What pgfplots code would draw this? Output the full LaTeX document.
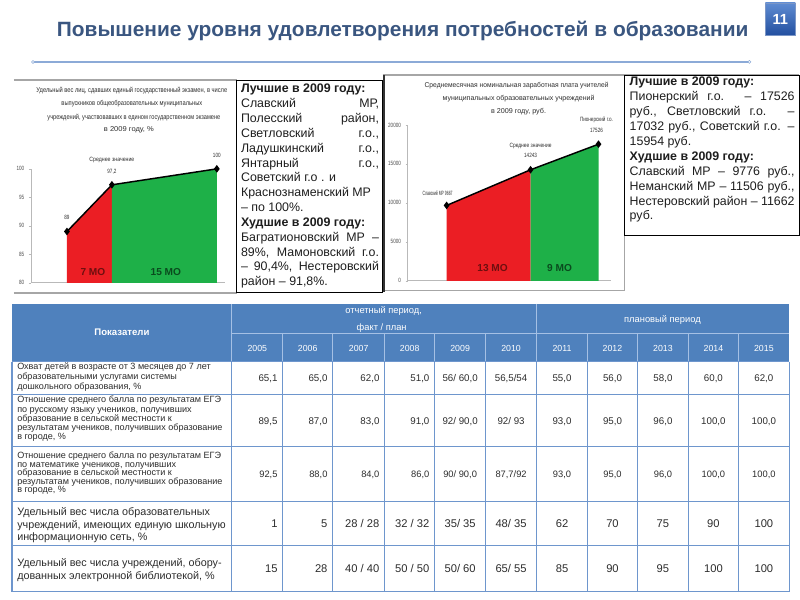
\documentclass[border=0pt]{standalone}
\usepackage{fontspec}
\setmainfont{Liberation Sans}
\usepackage{graphicx}
\usepackage{pgfplots}
\pgfplotsset{compat=1.18}

\definecolor{titleblue}{RGB}{58,86,128}
\definecolor{badgeA}{RGB}{95,140,210}
\definecolor{badgeB}{RGB}{35,80,160}
\definecolor{rule}{RGB}{140,170,215}
\definecolor{hdr}{RGB}{79,129,189}
\definecolor{hdrline}{RGB}{165,192,228}
\definecolor{gridc}{RGB}{110,150,205}
\definecolor{areared}{RGB}{235,30,36}
\definecolor{areagreen}{RGB}{30,176,72}
\definecolor{darkred}{RGB}{110,15,15}
\definecolor{darkgreen}{RGB}{10,75,30}
\definecolor{txt}{RGB}{45,45,45}
\definecolor{boxtxt}{RGB}{30,30,30}

\newcommand\fs[2]{\fontsize{#1}{#2}\selectfont}
\newlength\fitlen
% scale #2 horizontally to width #1 (pt)
\newcommand\fitw[2]{\settowidth\fitlen{#2}\pgfmathsetmacro\fitsx{(#1)/\fitlen}\scalebox{\fitsx}[1]{#2}}
% justified line of width #1 (pt)
\newcommand\jb[2]{\settowidth\fitlen{#2}\ifdim\fitlen>#1pt\relax\pgfmathsetmacro\fitsx{#1/\fitlen}\scalebox{\fitsx}[1]{#2}\else\makebox[#1pt][s]{#2}\fi}
\newcommand\sq[1]{\scalebox{0.75}[1]{#1}}
\newcommand\lab[3]{\node[anchor=base west,inner sep=0,font=\fs{#2}{#2},text=txt] at (17,#1) {#3};}
\def\xb{{232,283,333,385,435,486,537,588,638,689,739,790}}
\newcommand\trow[3]{%
  \foreach \v [count=\c] in {#3} {%
    \pgfmathsetmacro\xl{\xb[\c-1]}\pgfmathsetmacro\xr{\xb[\c]}%
    \ifnum\c<5
      \node[anchor=base east,inner sep=0,font=\fs{#2}{#2},text=txt] at (\xr-5,#1) {\v};
    \else
      \node[anchor=base,inner sep=0,font=\fs{#2}{#2},text=txt] at ({(\xl+\xr)/2},#1) {\v};
    \fi
  }}

\pgfplotsset{mini/.style={scale only axis, axis x line=bottom, axis y line=left,
  axis line style={-,draw=gray!55,line width=0.5pt}, xtick=\empty,
  tick align=outside, major tick length=1.5pt, tick style={draw=gray!55},
  yticklabel style={font=\fs{4.6}{5},text=gray!60!black},
  clip=false, /pgf/number format/assume math mode=true}}

\begin{document}
\begin{tikzpicture}
\begin{scope}[x=0.75pt,y=-0.75pt]
\fill[white] (0,0) rectangle (800,600);
% title, badge, rule
\node[anchor=base,inner sep=0,text=titleblue,font=\bfseries\fs{15.5}{17}] at (403,37)
  {\fitw{0.75*692}{Повышение уровня удовлетворения потребностей в образовании}};
\shade[top color=badgeA,bottom color=badgeB,draw=badgeB!60!white] (766,3) rectangle (796,35);
\node[white,font=\bfseries\fs{11}{12}] at (781,19) {11};
\draw[rule,line width=1pt] (33,62) -- (750,62);
\draw[rule,fill=white] (33,62) circle (1.5) (750,62) circle (1.5);
% frames
\draw[gray!70,line width=1.2pt] (14,80) -- (237,80) (14,293) -- (237,293);
\draw[gray!70,line width=1pt] (383,75) -- (800,75) (383,291) -- (625,291) (625,75) -- (625,291);
\draw[black!80,line width=1.5pt] (384,75) -- (384,292);
\draw[black,line width=0.6pt] (237,80) rectangle (383,293);
\draw[black,line width=0.6pt] (625,75) rectangle (800,236);

% chart titles
\begin{scope}[every node/.style={inner sep=0,font=\fs{5.3}{6},text=txt}]
\node at (132,91) {\fitw{0.75*191}{Удельный вес лиц, сдавших единый государственный экзамен, в числе}};
\node at (132,104) {\fitw{0.75*141}{выпускников общеобразовательных муниципальных}};
\node at (134,118) {\fitw{0.75*173}{учреждений, участвовавших в едином  государственном экзамене}};
\node at (129,130) {\fitw{0.75*50}{в 2009 году, \%}};
\node at (517,86) {\fitw{0.75*184}{Среднемесячная номинальная заработная плата учителей}};
\node at (519,99) {\fitw{0.75*152}{муниципальных  образовательных учреждений}};
\node at (519,112) {\fitw{0.75*55}{в 2009 году, руб.}};
\end{scope}

% text box 1
\begin{scope}[every node/.style={anchor=base west,inner sep=0,font=\fs{9.3}{11},text=boxtxt}]
\node at (241,93) {\textbf{Лучшие в 2009 году:}};
\node at (241,107.85) {\jb{103.5}{Славский МР,}};
\node at (241,122.7) {\jb{103.5}{Полесский район,}};
\node at (241,137.55) {\jb{103.5}{Светловский г.о.,}};
\node at (241,152.4) {\jb{103.5}{Ладушкинский г.о.,}};
\node at (241,167.25) {\jb{103.5}{Янтарный г.о.,}};
\node at (241,182.1) {Советский г.о . и};
\node at (241,196.95) {Краснознаменский МР};
\node at (241,211.8) {– по 100\%.};
\node at (241,226.65) {\textbf{Худшие в 2009 году:}};
\node at (241,241.5) {\jb{103.5}{Багратионовский МР –}};
\node at (241,256.35) {\jb{103.5}{89\%, Мамоновский г.о.}};
\node at (241,271.2) {\jb{103.5}{– 90,4\%, Нестеровский}};
\node at (241,286.05) {район – 91,8\%.};
% text box 2
\node at (630,86) {\textbf{Лучшие в 2009 году:}};
\node at (630,100.9) {\jb{123.75}{Пионерский г.о. – 17526}};
\node at (630,115.8) {\jb{123.75}{руб., Светловский г.о. –}};
\node at (630,130.7) {\jb{123.75}{17032 руб., Советский г.о. –}};
\node at (630,145.6) {15954 руб.};
\node at (630,160.5) {\textbf{Худшие в 2009 году:}};
\node at (630,175.4) {\jb{123.75}{Славский МР – 9776 руб.,}};
\node at (630,190.3) {\jb{123.75}{Неманский МР – 11506 руб.,}};
\node at (630,205.2) {\jb{123.75}{Нестеровский район – 11662}};
\node at (630,220.1) {руб.};
\end{scope}

% table
\fill[hdr] (12,304) rectangle (790,362);
\draw[hdrline,line width=0.8pt] (232,304) -- (232,362) (537,304) -- (537,362) (232,334) -- (790,334);
\foreach \x in {283,333,385,435,486,588,638,689,739} \draw[hdrline,line width=0.8pt] (\x,334) -- (\x,362);
\foreach \yy in {362,395,447,502,546,592} \draw[gridc,line width=0.8pt] (12,\yy) -- (790,\yy);
\foreach \x in {12,232,283,333,385,435,486,537,588,638,689,739,790} \draw[gridc,line width=0.8pt] (\x,362) -- (\x,592);
\node[white,font=\bfseries\fs{7.2}{8}] at (122,333) {Показатели};
\node[white,font=\fs{7}{8}] at (384,311) {отчетный период,};
\node[white,font=\fs{7}{8}] at (382,328) {факт / план};
\node[white,font=\fs{7}{8}] at (663,320) {плановый период};
\foreach \yr [count=\c] in {2005,2006,...,2015} {
  \pgfmathsetmacro\xl{\xb[\c-1]}\pgfmathsetmacro\xr{\xb[\c]}
  \node[anchor=base,inner sep=0,white,font=\fs{6.6}{7}] at ({(\xl+\xr)/2},352) {\yr};
}
\lab{370}{6.8}{Охват детей в возрасте от 3 месяцев до 7 лет}
\lab{380}{6.8}{образовательными услугами системы}
\lab{390}{6.8}{дошкольного образования, \%}
\lab{403}{6.8}{Отношение среднего балла по результатам ЕГЭ}
\lab{412.5}{6.8}{по русскому языку учеников, получивших}
\lab{421.5}{6.8}{образование в сельской местности к}
\lab{430.5}{6.8}{результатам учеников, получивших образование}
\lab{439.5}{6.8}{в  городе, \%}
\lab{459}{6.8}{Отношение среднего балла по результатам ЕГЭ}
\lab{467.5}{6.8}{по математике учеников, получивших}
\lab{476}{6.8}{образование в сельской местности к}
\lab{484.5}{6.8}{результатам учеников, получивших образование}
\lab{493}{6.8}{в городе, \%}
\lab{516}{8.1}{Удельный вес числа образовательных}
\lab{528.5}{8.1}{учреждений, имеющих единую школьную}
\lab{541}{8.1}{информационную сеть, \%}
\lab{567}{8.1}{Удельный вес числа учреждений, обору-}
\lab{580}{8.1}{дованных электронной библиотекой, \%}
\trow{381.6}{7.3}{{65,1},{65,0},{62,0},{51,0},{56/ 60,0},{56,5/54},{55,0},{56,0},{58,0},{60,0},{62,0}}
\trow{424.6}{7.3}{{89,5},{87,0},{83,0},{91,0},{92/ 90,0},{92/ 93},{93,0},{95,0},{96,0},{100,0},{100,0}}
\trow{477.6}{7}{{92,5},{88,0},{84,0},{86,0},{90/ 90,0},{87,7/92},{93,0},{95,0},{96,0},{100,0},{100,0}}
\trow{528}{8.4}{1,5,{28 / 28},{32 / 32},{35/ 35},{48/ 35},62,70,75,90,100}
\trow{573}{8.4}{15,28,{40 / 40},{50 / 50},{50/ 60},{65/ 55},85,90,95,100,100}
\end{scope}

% chart 1: share of graduates, %
\begin{axis}[mini, at={(23.25pt,-212.25pt)}, anchor=south west,
  width=145.5pt, height=85.5pt, xmin=0, xmax=194, ymin=80, ymax=100,
  ytick={80,85,90,95,100},
  yticklabels={\sq{80},\sq{85},\sq{90},\sq{95},\sq{100}}]
\addplot[fill=areared,draw=none] coordinates {(36,80) (36,89) (81,97.2) (81,80)} -- cycle;
\addplot[fill=areagreen,draw=none] coordinates {(81,80) (81,97.2) (186,100) (186,80)} -- cycle;
\addplot[black,line width=1.1pt,mark=diamond*,mark size=2pt] coordinates {(36,89) (81,97.2) (186,100)};
\begin{scope}[every node/.style={inner sep=0,font=\fs{4.6}{5},text=txt}]
\node at (axis cs:36,91.4) {\sq{89}};
\node at (axis cs:81,101.6) {\fitw{0.75*45}{Среднее значение}};
\node at (axis cs:81,99.5) {\sq{97,2}};
\node at (axis cs:186,102.3) {\sq{100}};
\end{scope}
\node[font=\bfseries\fs{7.6}{8},text=darkred] at (axis cs:62,81.9) {7 МО};
\node[font=\bfseries\fs{7.6}{8},text=darkgreen] at (axis cs:135,81.9) {15 МО};
\end{axis}

% chart 2: average monthly salary, rub.
\begin{axis}[mini, at={(306pt,-210.75pt)}, anchor=south west,
  width=153pt, height=117pt, xmin=0, xmax=204, ymin=0, ymax=20000,
  scaled y ticks=false, ytick={0,5000,10000,15000,20000},
  yticklabels={\sq{0},\sq{5000},\sq{10000},\sq{15000},\sq{20000}}]
\addplot[fill=areared,draw=none] coordinates {(39,0) (39,9667) (123,14243) (123,0)} -- cycle;
\addplot[fill=areagreen,draw=none] coordinates {(123,0) (123,14243) (191,17526) (191,0)} -- cycle;
\addplot[black,line width=1.1pt,mark=diamond*,mark size=2pt] coordinates {(39,9667) (123,14243) (191,17526)};
\begin{scope}[every node/.style={inner sep=0,font=\fs{4.6}{5},text=txt}]
\node at (axis cs:30,11282) {\fitw{0.75*30}{Славский МР 9667}};
\node at (axis cs:123,17308) {\fitw{0.75*42}{Среднее значение}};
\node at (axis cs:123,16026) {\sq{14243}};
\node at (axis cs:189,20641) {\fitw{0.75*33}{Пионерский г.о.}};
\node at (axis cs:189,19359) {\sq{17526}};
\end{scope}
\node[font=\bfseries\fs{7.6}{8},text=darkred] at (axis cs:85,1667) {13 МО};
\node[font=\bfseries\fs{7.6}{8},text=darkgreen] at (axis cs:152,1667) {9 МО};
\end{axis}
\end{tikzpicture}
\end{document}
